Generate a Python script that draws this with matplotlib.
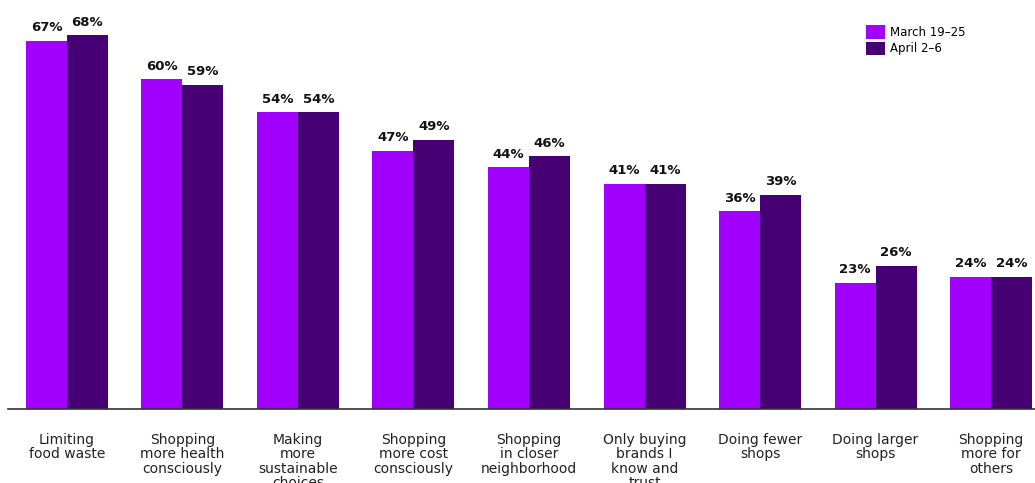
import numpy as np
import matplotlib.pyplot as plt

categories = [
    "Limiting\nfood waste",
    "Shopping\nmore health\nconsciously",
    "Making\nmore\nsustainable\nchoices",
    "Shopping\nmore cost\nconsciously",
    "Shopping\nin closer\nneighborhood",
    "Only buying\nbrands I\nknow and\ntrust",
    "Doing fewer\nshops",
    "Doing larger\nshops",
    "Shopping\nmore for\nothers",
]
march = [67, 60, 54, 47, 44, 41, 36, 23, 24]
april = [68, 59, 54, 49, 46, 41, 39, 26, 24]
series_names = ["March 19\u201325", "April 2\u20136"]

c_march = "#A100FF"
c_april = "#460073"

fig = plt.figure(figsize=(10.35, 4.83), dpi=100)
ax = fig.add_axes([8 / 1035, 1 - 409 / 483, 1 - 8 / 1035, 409 / 483])

x = np.arange(len(categories))
w = 0.355
b1 = ax.bar(x - w / 2, march, w, color=c_march, label=series_names[0])
b2 = ax.bar(x + w / 2, april, w, color=c_april, label=series_names[1])

for bars, vals in [(b1, march), (b2, april)]:
    for r, v in zip(bars, vals):
        ax.text(r.get_x() + r.get_width() / 2, v + 1.2, f"{v}%",
                ha="center", va="bottom", fontsize=9.5, fontweight="heavy",
                color="#111111")

ax.set_xlim(-0.51, 8.38)
ax.set_ylim(0, 74.4)
ax.set_xticks(x)
ax.set_xticklabels(categories, fontsize=10, color="#222222", linespacing=1.05,
                   va="top")
ax.tick_params(axis="x", length=0, pad=17)
ax.set_yticks([])
for s in ["top", "right", "left"]:
    ax.spines[s].set_visible(False)
ax.spines["bottom"].set_color("#333333")
ax.spines["bottom"].set_linewidth(1.2)

ax.legend(loc="upper right", bbox_to_anchor=(0.943, 0.965), frameon=False,
          fontsize=8.5, handlelength=1.6, handleheight=1.4, handletextpad=0.45,
          labelspacing=0.25)

fig.savefig("out.png", dpi=100)
